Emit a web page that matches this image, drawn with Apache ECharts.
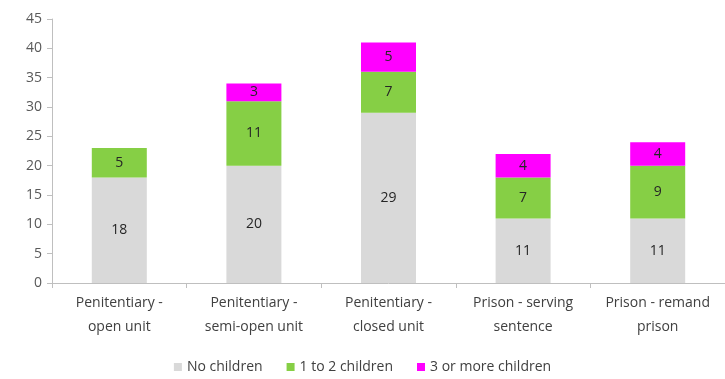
<!DOCTYPE html>
<html><head><meta charset="utf-8">
<script src="https://cdn.jsdelivr.net/npm/echarts@6/dist/echarts.min.js"></script>
<style>html,body{margin:0;padding:0;background:#fff}#c{width:725px;height:379px}</style>
</head><body><div id="c"></div>
<script>
const categories = ['Penitentiary -\nopen unit','Penitentiary -\nsemi-open unit','Penitentiary -\nclosed unit','Prison - serving\nsentence','Prison - remand\nprison'];
const noChildren = [18,20,29,11,11];
const oneToTwo = [5,11,7,7,9];
const threeOrMore = [0,3,5,4,4];
const yTicks = {min:0,max:45,interval:5};

const font = 'Open Sans';
const lbl = {show:true,position:'inside',color:'#262626',fontSize:14,fontFamily:font,
  formatter:p=>p.value?String(p.value):''};
const chart = echarts.init(document.getElementById('c'));
chart.setOption({
  animation:false,
  textStyle:{fontFamily:font},
  grid:{left:52,top:19,width:680,bottom:96},
  legend:{bottom:0,left:'center',itemWidth:8,itemHeight:8,itemGap:24,icon:'rect',
    textStyle:{fontSize:14,color:'#404040',fontFamily:font},
    data:['No children','1 to 2 children','3 or more children']},
  xAxis:{type:'category',data:categories,
    axisLine:{lineStyle:{color:'#bfbfbf'}},
    axisTick:{show:true,length:5,lineStyle:{color:'#bfbfbf'}},
    axisLabel:{color:'#404040',fontSize:14,lineHeight:24,margin:8,interval:0}},
  yAxis:{type:'value',min:yTicks.min,max:yTicks.max,interval:yTicks.interval,
    axisLine:{show:true,lineStyle:{color:'#bfbfbf'}},
    axisTick:{show:true,inside:false,length:5,lineStyle:{color:'#bfbfbf'}},
    splitLine:{show:false},
    axisLabel:{color:'#595959',fontSize:14,margin:10}},
  series:[
    {name:'No children',type:'bar',stack:'a',data:noChildren,barWidth:55,itemStyle:{color:'#d9d9d9'},label:lbl},
    {name:'1 to 2 children',type:'bar',stack:'a',data:oneToTwo,itemStyle:{color:'#86cf45'},label:lbl},
    {name:'3 or more children',type:'bar',stack:'a',data:threeOrMore,itemStyle:{color:'#ff00ff'},label:lbl}
  ]
});
</script></body></html>
